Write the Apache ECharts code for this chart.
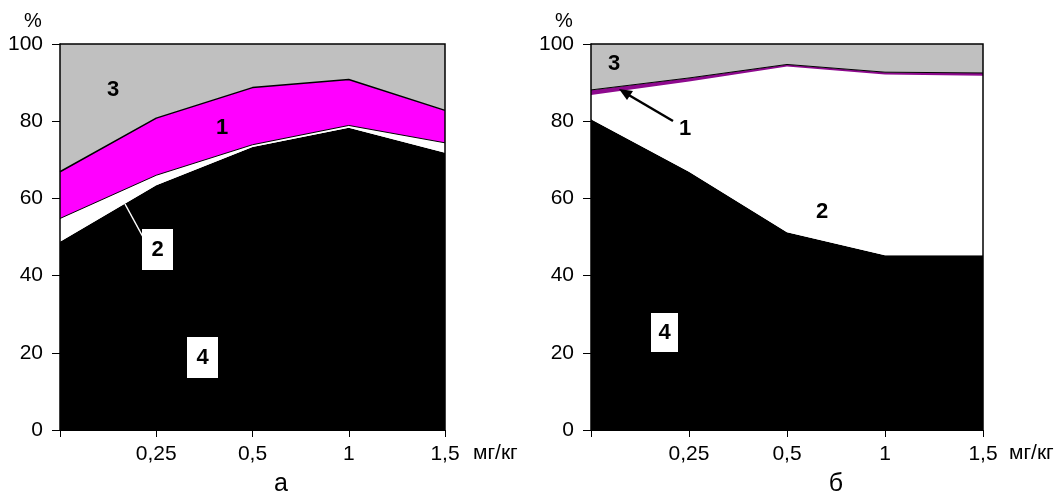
<!DOCTYPE html>
<html>
<head>
<meta charset="utf-8">
<script src="https://cdn.jsdelivr.net/npm/echarts@6/dist/echarts.min.js"></script>
<style>
html,body{margin:0;padding:0;background:#fff;}
#c{width:1057px;height:495px;}
</style>
</head>
<body>
<div id="c"></div>
<script>
// categories (doses, mg/kg)
const categories = ['', '0,25', '0,5', '1', '1,5'];
// panel "а" stacked shares, %
const aSeries4 = [48.8, 63.4, 73.3, 78.3, 71.8];
const aSeries2 = [6.0, 2.6, 0.6, 0.6, 2.6];
const aSeries1 = [12.1, 14.8, 14.8, 11.9, 8.4];
const aSeries3 = [33.1, 19.2, 11.3, 9.2, 17.2];
// panel "б" stacked shares, %
const bSeries4 = [80.5, 66.9, 51.2, 45.3, 45.3];
const bSeries2 = [6.3, 23.4, 43.0, 46.8, 46.5];
const bSeries1 = [1.3, 0.9, 0.5, 0.6, 0.7];
const bSeries3 = [11.9, 8.8, 5.3, 7.3, 7.5];
// y ticks
const yMin = 0, yMax = 100, yStep = 20;
const unitLabel = 'мг/кг';

const FONT = '"Liberation Sans", Arial, sans-serif';
const chart = echarts.init(document.getElementById('c'), null, {renderer: 'canvas'});

function xAxisFor(gi) {
  return {
    type: 'category', gridIndex: gi, data: categories, boundaryGap: false,
    axisLine: {show: true, lineStyle: {color: '#000', width: 1}},
    axisTick: {show: true, alignWithLabel: true, length: 7, lineStyle: {color: '#000'}},
    axisLabel: {color: '#000', fontSize: 21, fontFamily: FONT, margin: 14, interval: 0},
    splitLine: {show: false}
  };
}
function yAxisFor(gi) {
  return {
    type: 'value', gridIndex: gi, min: yMin, max: yMax, interval: yStep,
    axisLine: {show: true, lineStyle: {color: '#000', width: 1}},
    axisTick: {show: true, length: 8, lineStyle: {color: '#000'}},
    axisLabel: {color: '#000', fontSize: 21, fontFamily: FONT, margin: 17},
    splitLine: {show: false},
    name: '%', nameLocation: 'end', nameGap: 13,
    nameTextStyle: {color: '#000', fontSize: 20, fontFamily: FONT, padding: [0, 54, 0, 0]}
  };
}
function areaSeries(gi, stack, data, fill, lineColor, lineWidth) {
  return {
    type: 'line', xAxisIndex: gi, yAxisIndex: gi, stack: stack, data: data,
    symbol: 'none', smooth: false, silent: true,
    lineStyle: {color: lineColor, width: lineWidth, opacity: lineWidth > 0 ? 1 : 0},
    areaStyle: {color: fill, opacity: 1},
    z: 2
  };
}

const boxes = [
  // panel а
  {type: 'line', shape: {x1: 125, y1: 204, x2: 143, y2: 237}, style: {stroke: '#fff', lineWidth: 1.5}, z: 100},
  {type: 'rect', shape: {x: 142, y: 229, width: 31, height: 41}, style: {fill: '#fff'}, z: 100},
  {type: 'rect', shape: {x: 187, y: 337, width: 31, height: 41}, style: {fill: '#fff'}, z: 100},
  // panel б
  {type: 'rect', shape: {x: 651, y: 313, width: 27, height: 39}, style: {fill: '#fff'}, z: 100},
  {type: 'line', shape: {x1: 673, y1: 121, x2: 627, y2: 94}, style: {stroke: '#000', lineWidth: 2.5}, z: 100},
  {type: 'polygon', shape: {points: [[619, 89], [633, 91], [627, 100]]}, style: {fill: '#000'}, z: 100}
];
function lbl(x, y, t, size, bold, align) {
  return {type: 'text', x: x, y: y, z: 101,
    style: {text: t, fill: '#000', font: (bold ? 'bold ' : '') + size + 'px ' + FONT, align: align || 'center', verticalAlign: 'middle'}};
}
const texts = [
  lbl(113, 90, '3', 22, true),
  lbl(222, 128, '1', 22, true),
  lbl(157.5, 250, '2', 22, true),
  lbl(202.5, 358, '4', 22, true),
  lbl(614, 64, '3', 22, true),
  lbl(685, 129, '1', 22, true),
  lbl(822, 212, '2', 22, true),
  lbl(664.5, 333, '4', 22, true),
  lbl(473, 453, unitLabel, 21, false, 'left'),
  lbl(1009, 453, unitLabel, 21, false, 'left'),
  lbl(281, 484, 'а', 25, false),
  lbl(836, 484, 'б', 25, false)
];

chart.setOption({
  animation: false,
  backgroundColor: '#fff',
  grid: [
    {left: 60, top: 44, width: 385, height: 386, show: true, borderColor: '#000', borderWidth: 1.5, backgroundColor: 'transparent', z: 10},
    {left: 591, top: 44, width: 392, height: 386, show: true, borderColor: '#000', borderWidth: 1.5, backgroundColor: 'transparent', z: 10}
  ],
  xAxis: [xAxisFor(0), xAxisFor(1)],
  yAxis: [yAxisFor(0), yAxisFor(1)],
  series: [
    areaSeries(0, 'a', aSeries4, '#000000', '#000', 0),
    areaSeries(0, 'a', aSeries2, '#ffffff', '#000', 1),
    areaSeries(0, 'a', aSeries1, '#ff00ff', '#000', 1.5),
    areaSeries(0, 'a', aSeries3, '#c0c0c0', '#000', 0),
    areaSeries(1, 'b', bSeries4, '#000000', '#000', 0),
    areaSeries(1, 'b', bSeries2, '#ffffff', '#fff', 0),
    areaSeries(1, 'b', bSeries1, '#8e0a8e', '#000', 1),
    areaSeries(1, 'b', bSeries3, '#c0c0c0', '#000', 0)
  ],
  graphic: boxes.concat(texts)
});
</script>
</body>
</html>
